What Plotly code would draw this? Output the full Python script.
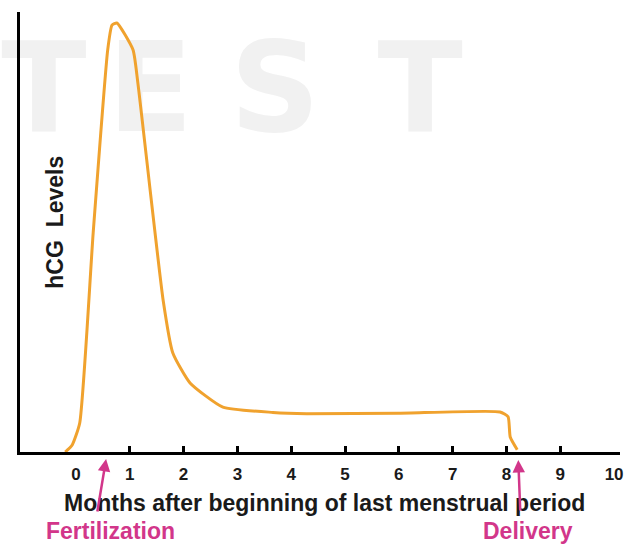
import plotly.graph_objects as go

# Data (months after LMP vs relative hCG level)
months = [-0.20, -0.07, 0.07, 0.32, 0.59, 0.67, 0.76, 1.06, 1.15, 1.62, 1.80, 2.12,
          2.73, 3.66, 4.29, 6.00, 7.88, 8.03, 8.07, 8.20]
hcg = [0.0, 1.6, 6.6, 49.8, 91.4, 97.0, 97.5, 91.4, 83.9, 34.5, 22.5, 15.7,
       10.2, 9.0, 8.7, 8.8, 9.1, 8.0, 3.4, 0.5]
tick_vals = list(range(0, 11))
tick_text = [f"<b>{v}</b>" for v in tick_vals]
minor_ticks = list(range(1, 10))
events = ["Fertilization", "Delivery"]
event_x = [0.56, 8.22]
event_label_x = [0.65, 8.40]
watermark_letters = ["T", "E", "S", "T"]

MAGENTA = "#d2368a"
ORANGE = "#f0a22e"
FONT = "Liberation Sans, Arial, sans-serif"

fig = go.Figure()
fig.add_trace(go.Scatter(
    x=months, y=hcg, mode="lines",
    line=dict(color=ORANGE, width=3, shape="spline", smoothing=0.5),
    hoverinfo="skip", showlegend=False, cliponaxis=False,
))

shapes = []
wm_centers = [0.04, 0.217, 0.425, 0.667]
for letter, cx in zip(watermark_letters, wm_centers):
    shapes.append(dict(
        type="rect", xref="paper", yref="paper",
        x0=cx - 0.08, x1=cx + 0.08, y0=0.72, y1=0.98,
        line=dict(width=0), fillcolor="rgba(0,0,0,0)", layer="below",
        label=dict(text=f"<b>{letter}</b>", font=dict(family="DejaVu Sans", size=125, color="#f1f1f1"),
                   textposition="middle center"),
    ))

annotations = [
    dict(text="<b>Months after beginning of last menstrual period</b>", xref="paper", yref="paper",
         x=0.508, y=0, yshift=-51, showarrow=False, font=dict(family=FONT, size=23, color="#1a1a1a"),
         xanchor="center", yanchor="middle"),
    dict(text="<b>hCG  Levels</b>", xref="paper", yref="paper", x=0.058, y=0.523,
         textangle=-90, showarrow=False, font=dict(family=FONT, size=23, color="#1a1a1a"),
         xanchor="center", yanchor="middle"),
]
for name, ex, lx in zip(events, event_x, event_label_x):
    annotations.append(dict(
        text=f"<b>{name}</b>", xref="x", yref="paper", x=lx, y=0, yshift=-79,
        showarrow=False, font=dict(family=FONT, size=23, color=MAGENTA),
        xanchor="center", yanchor="middle"))
annotations.append(dict(text="", xref="x", yref="paper", x=event_x[0], y=0, yshift=-7,
                        axref="pixel", ayref="pixel", ax=-9, ay=54,
                        showarrow=True, arrowhead=2, arrowsize=1, arrowwidth=2.5, arrowcolor=MAGENTA))
annotations.append(dict(text="", xref="x", yref="paper", x=event_x[1], y=0, yshift=-8,
                        axref="pixel", ayref="pixel", ax=2, ay=52,
                        showarrow=True, arrowhead=2, arrowsize=1, arrowwidth=2.5, arrowcolor=MAGENTA))

fig.update_layout(
    width=635, height=545,
    margin=dict(l=20, r=15, t=12, b=93),
    paper_bgcolor="white", plot_bgcolor="rgba(0,0,0,0)",
    shapes=shapes, annotations=annotations,
    xaxis=dict(range=[-1.04, 10.11], showgrid=False, zeroline=False,
               showline=True, linecolor="black", linewidth=3,
               tickmode="array", tickvals=tick_vals, ticktext=tick_text, ticks="",
               ticklabelstandoff=5,
               tickfont=dict(family=FONT, size=17, color="#1a1a1a"),
               minor=dict(tickmode="array", tickvals=minor_ticks, ticks="inside",
                          ticklen=6, tickwidth=2.5, tickcolor="black"),
               fixedrange=True),
    yaxis=dict(range=[0, 100], showgrid=False, zeroline=False,
               showline=True, linecolor="black", linewidth=3,
               showticklabels=False, ticks="", fixedrange=True),
)

fig.write_html("out.html", config={"displayModeBar": False},
               post_script="document.body.style.margin='0';")
